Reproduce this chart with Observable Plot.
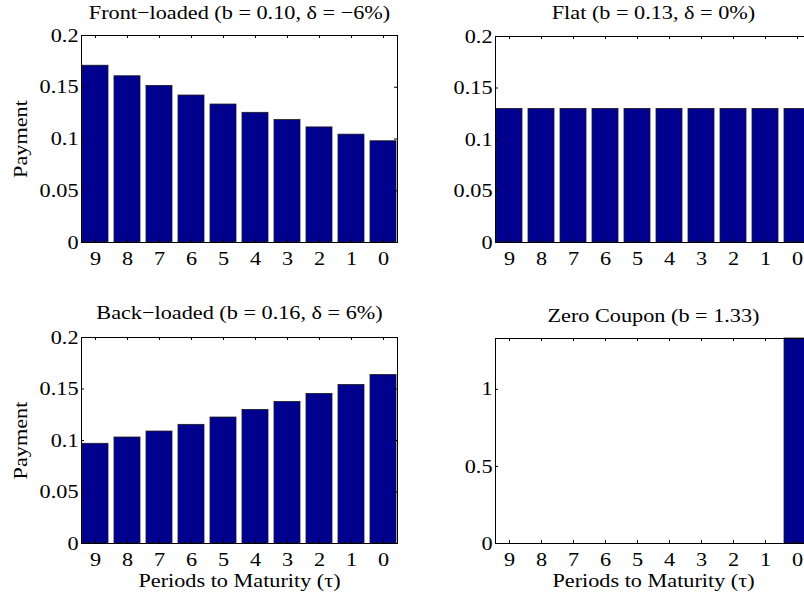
<!DOCTYPE html>
<html>
<head>
<meta charset="utf-8">
<script src="https://cdn.jsdelivr.net/npm/d3@7"></script>
<script src="https://cdn.jsdelivr.net/npm/@observablehq/plot@0.6"></script>
<style>
  html, body { margin: 0; padding: 0; background: #fff; }
  #wrap { position: relative; width: 804px; height: 597px; overflow: hidden; }
  .panel { position: absolute; width: 420px; }
  #wrap svg { max-width: none !important; overflow: visible; }
</style>
</head>
<body>
<div id="wrap"></div>
<script>
// Categories: periods to maturity
const periods = [9, 8, 7, 6, 5, 4, 3, 2, 1, 0];
// Series values
const frontLoaded = [0.1708, 0.1606, 0.1513, 0.1420, 0.1333, 0.1253, 0.1183, 0.1112, 0.1042, 0.0978];
const flat        = [0.1297, 0.1297, 0.1297, 0.1297, 0.1297, 0.1297, 0.1297, 0.1297, 0.1297, 0.1297];
const backLoaded  = [0.0968, 0.1029, 0.1087, 0.1152, 0.1223, 0.1297, 0.1374, 0.1452, 0.1539, 0.1635];
const zeroCoupon  = [0, 0, 0, 0, 0, 0, 0, 0, 0, 1.33];
// Titles and tick labels
const titles = [
  "Front\u2212loaded (b = 0.10, \u03b4 = \u22126%)",
  "Flat (b = 0.13, \u03b4 = 0%)",
  "Back\u2212loaded (b = 0.16, \u03b4 = 6%)",
  "Zero Coupon (b = 1.33)"
];
const yTicksSmall = [0, 0.05, 0.1, 0.15, 0.2];
const yTickLabelsSmall = ["0", "0.05", "0.1", "0.15", "0.2"];
const yTicksZero = [0, 0.5, 1];
const yTickLabelsZero = ["0", "0.5", "1"];

const FONT = "'Liberation Serif', 'Times New Roman', serif";
const FS = 19;
const STRETCH = 1.17;
const BAR = "#00008f";

function panel({values, title, yDomain, yTicks, yLabels, showYLabel, showXLabel, left, top, mLeft, mTop, mBottom, frameH, titleDy}) {
  const W = 316, mRight = 14;
  const data = periods.map((p, i) => ({p, v: values[i]}));
  const tickLen = 3;
  const fmt = d => yLabels[yTicks.indexOf(d)];
  const marks = [
    Plot.barY(data, {x: "p", y: "v", fill: BAR, stroke: "#1a1a1a", strokeWidth: 0.8}),
    Plot.frame({stroke: "black", strokeWidth: 1}),
    // inward ticks bottom & top
    Plot.ruleX(periods, {x: d => d, insetTop: frameH - tickLen, stroke: "black"}),
    Plot.ruleX(periods, {x: d => d, insetBottom: frameH - tickLen, stroke: "black"}),
    // inward ticks left & right
    Plot.ruleY(yTicks, {y: d => d, insetRight: W - tickLen, stroke: "black"}),
    Plot.ruleY(yTicks, {y: d => d, insetLeft: W - tickLen, stroke: "black"}),
    Plot.axisX({tickSize: 0, tickPadding: 9, fontSize: FS, label: showXLabel ? "Periods to Maturity (\u03c4)" : null,
      labelAnchor: "center", labelArrow: "none", labelOffset: 43}),
    Plot.axisY({ticks: yTicks, tickFormat: fmt, tickSize: 0, tickPadding: 3, fontSize: FS,
      label: showYLabel ? "Payment" : null, labelAnchor: "center", labelArrow: "none", labelOffset: 68}),
    Plot.text([title], {text: d => d, frameAnchor: "top", lineAnchor: "middle", dy: titleDy, fontSize: FS, fill: "black"})
  ];
  const chart = Plot.plot({
    width: mLeft + W + mRight,
    height: mTop + frameH + mBottom,
    marginLeft: mLeft, marginRight: mRight, marginTop: mTop, marginBottom: mBottom,
    style: {fontFamily: FONT, fontSize: FS + "px", color: "black", background: "transparent", overflow: "visible"},
    x: {type: "band", domain: periods, paddingInner: 0.2, paddingOuter: 0, align: 0.5},
    y: {domain: yDomain},
    marks
  });
  const div = document.createElement("div");
  div.className = "panel";
  div.style.left = (left - mLeft) + "px";
  div.style.top = top + "px";
  div.appendChild(chart);
  document.getElementById("wrap").appendChild(div);
  // widen the serif glyphs horizontally, like the reference typeface
  chart.querySelectorAll("text").forEach(t => {
    if (t.querySelector("tspan")) return;
    const len = t.getComputedTextLength();
    if (len > 0) {
      t.setAttribute("textLength", (len * STRETCH).toFixed(2));
      t.setAttribute("lengthAdjust", "spacingAndGlyphs");
    }
  });
}

panel({values: frontLoaded, title: titles[0], yDomain: [0, 0.2], yTicks: yTicksSmall, yLabels: yTickLabelsSmall,
  showYLabel: true, showXLabel: false, left: 81, top: 0, mLeft: 81, mTop: 35, mBottom: 58, frameH: 207, titleDy: -23});
panel({values: flat, title: titles[1], yDomain: [0, 0.2], yTicks: yTicksSmall, yLabels: yTickLabelsSmall,
  showYLabel: false, showXLabel: false, left: 495, top: 0, mLeft: 81, mTop: 36, mBottom: 57, frameH: 206, titleDy: -24});
panel({values: backLoaded, title: titles[2], yDomain: [0, 0.2], yTicks: yTicksSmall, yLabels: yTickLabelsSmall,
  showYLabel: true, showXLabel: true, left: 81, top: 300, mLeft: 81, mTop: 37, mBottom: 54, frameH: 206, titleDy: -25});
panel({values: zeroCoupon, title: titles[3], yDomain: [0, 1.33], yTicks: yTicksZero, yLabels: yTickLabelsZero,
  showYLabel: false, showXLabel: true, left: 495, top: 300, mLeft: 81, mTop: 38, mBottom: 54, frameH: 205, titleDy: -23});
</script>
</body>
</html>
